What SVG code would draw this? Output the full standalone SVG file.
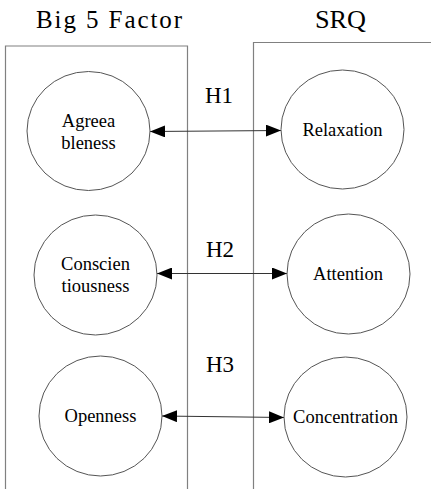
<svg xmlns="http://www.w3.org/2000/svg" width="431" height="489" viewBox="0 0 431 489">
<style>
.frame{fill:none;stroke:#808080;stroke-width:1.2}
.node{fill:#fff;stroke:#555;stroke-width:1}
.lbl{font-family:"Liberation Serif","DejaVu Serif",serif;font-size:18.5px;fill:#000;text-anchor:middle}
.title{font-family:"Liberation Serif","DejaVu Serif",serif;font-size:25px;fill:#000}
.h{font-family:"Liberation Serif","DejaVu Serif",serif;font-size:23px;fill:#000;text-anchor:middle}
.conn{stroke:#333;stroke-width:1;fill:none;marker-start:url(#ah);marker-end:url(#ah)}
</style>
<defs>
<marker id="ah" viewBox="0 0 15 12" refX="15" refY="6" markerWidth="15" markerHeight="12" markerUnits="userSpaceOnUse" orient="auto-start-reverse">
<path d="M0,0 L15,6 L0,12 Z" fill="#000"/>
</marker>
</defs>
<rect width="431" height="489" fill="#fff"/>
<g id="frames">
<path class="frame" d="M5.5,489 V46 H187.5 V489"/>
<path class="frame" d="M253.5,489 V42.5 H432"/>
</g>
<g id="titles">
<text class="title" x="36" y="28" textLength="146" lengthAdjust="spacing">Big 5 Factor</text>
<text class="title" x="315" y="28" textLength="51" lengthAdjust="spacingAndGlyphs">SRQ</text>
</g>
<g id="connectors">
<line class="conn" x1="150" y1="131.5" x2="281" y2="130.5"/>
<line class="conn" x1="157" y1="273.5" x2="287" y2="273.5"/>
<line class="conn" x1="162" y1="416" x2="284" y2="417.5"/>
<text class="h" x="219" y="103">H1</text>
<text class="h" x="220" y="257">H2</text>
<text class="h" x="220" y="372">H3</text>
</g>
<g id="agreeableness">
<ellipse class="node" cx="88.5" cy="131" rx="61.5" ry="59.5"/>
<text class="lbl" x="88.5" y="127">Agreea</text>
<text class="lbl" x="88.5" y="149">bleness</text>
</g>
<g id="conscientiousness">
<ellipse class="node" cx="95.5" cy="275" rx="61.5" ry="60"/>
<text class="lbl" x="95.5" y="270">Conscien</text>
<text class="lbl" x="95.5" y="292">tiousness</text>
</g>
<g id="openness">
<ellipse class="node" cx="100.5" cy="416" rx="61.5" ry="60"/>
<text class="lbl" x="100.5" y="422">Openness</text>
</g>
<g id="relaxation">
<ellipse class="node" cx="342.5" cy="129.5" rx="61.5" ry="59.5"/>
<text class="lbl" x="342.5" y="136">Relaxation</text>
</g>
<g id="attention">
<ellipse class="node" cx="348.5" cy="274" rx="61.5" ry="60"/>
<text class="lbl" x="348" y="280">Attention</text>
</g>
<g id="concentration">
<ellipse class="node" cx="345.5" cy="417" rx="61.5" ry="60"/>
<text class="lbl" x="345.5" y="423">Concentration</text>
</g>
</svg>
